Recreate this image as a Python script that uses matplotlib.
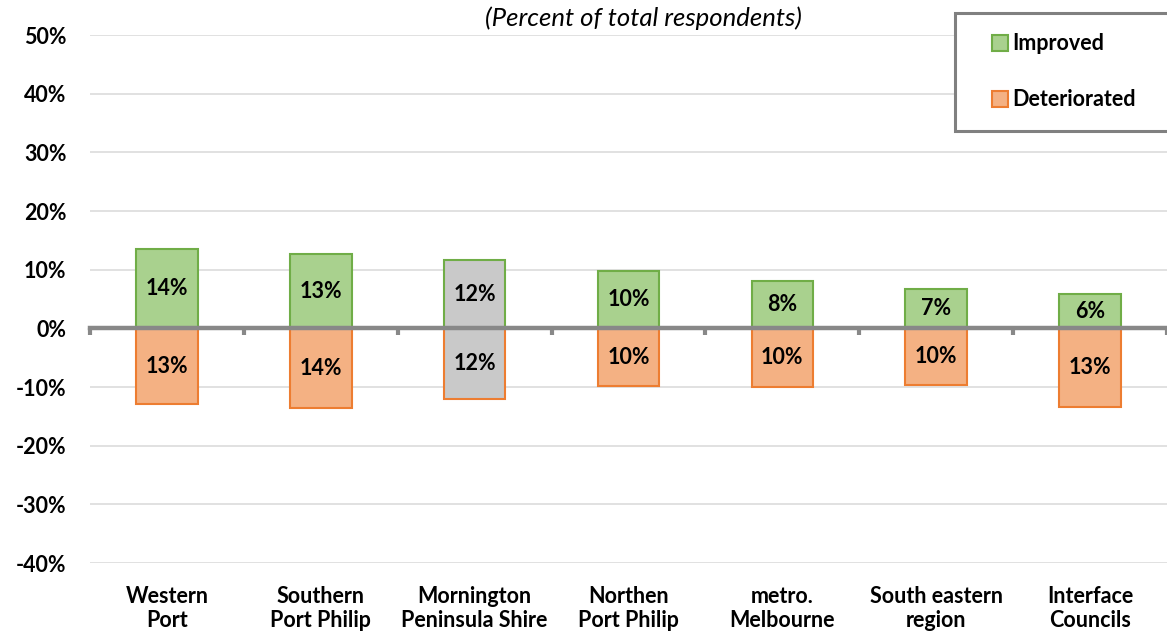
import matplotlib
matplotlib.use("Agg")
import matplotlib.pyplot as plt
from matplotlib.lines import Line2D
import numpy as np

plt.rcParams["font.family"] = ["Lato", "DejaVu Sans"]

categories = [
    "Western\nPort",
    "Southern\nPort Philip",
    "Mornington\nPeninsula Shire",
    "Northen\nPort Philip",
    "metro.\nMelbourne",
    "South eastern\nregion",
    "Interface\nCouncils",
]
improved = [13.6, 12.6, 11.7, 9.8, 8.1, 6.7, 5.9]
deteriorated = [-12.9, -13.6, -12.1, -9.9, -10.0, -9.6, -13.4]
highlight = "Mornington\nPeninsula Shire"
yticks = [-40, -30, -20, -10, 0, 10, 20, 30, 40, 50]

GREEN, GREEN_EDGE = "#A9D18E", "#70AD47"
ORANGE, ORANGE_EDGE = "#F4B183", "#ED7D31"
GREY = "#C9C9C9"
FS = 15.5

fig = plt.figure(figsize=(11.67, 6.33), dpi=100)
ax = fig.add_axes([90 / 1167, 1 - 563 / 633, 1 - 90 / 1167, (563 - 35) / 633])

x = np.arange(len(categories))
up_fill = [GREY if c == highlight else GREEN for c in categories]
dn_fill = [GREY if c == highlight else ORANGE for c in categories]
ax.bar(x, improved, width=0.4, color=up_fill, edgecolor=GREEN_EDGE,
       linewidth=1.5, zorder=3)
ax.bar(x, deteriorated, width=0.4, color=dn_fill, edgecolor=ORANGE_EDGE,
       linewidth=1.5, zorder=3)

for xi, v in zip(x, improved):
    ax.text(xi, v / 2, f"{abs(v):.0f}%", ha="center", va="center",
            fontsize=FS, fontweight="bold", zorder=5)
for xi, v in zip(x, deteriorated):
    ax.text(xi, v / 2, f"{abs(v):.0f}%", ha="center", va="center",
            fontsize=FS, fontweight="bold", zorder=5)

ax.set_ylim(-40, 50)
ax.set_xlim(-0.5, (1167 - 168) / 155.3)
ax.set_yticks(yticks)
ax.set_yticklabels([f"{t}%" for t in yticks], fontsize=FS, fontweight="bold")
ax.tick_params(axis="y", length=0, pad=17)
ax.yaxis.grid(True, color="#D9D9D9", linewidth=1.1, zorder=0)
ax.set_axisbelow(True)

# category axis runs along zero with boundary ticks
ax.set_xticks(np.arange(-0.5, len(categories) + 0.5, 1.0))
ax.set_xticklabels([])
ax.spines["bottom"].set_position(("data", 0))
ax.spines["bottom"].set_color("#888888")
ax.spines["bottom"].set_linewidth(3.2)
ax.spines["bottom"].set_zorder(4)
ax.tick_params(axis="x", length=5, width=3, color="#888888", direction="out")
for s in ["top", "left", "right"]:
    ax.spines[s].set_visible(False)

for xi, c in zip(x, categories):
    ax.text(xi, -0.043, c, transform=ax.get_xaxis_transform(), ha="center",
            va="top", fontsize=FS, fontweight="bold", linespacing=1.2)

fig.text(643 / 1167, 1 - 18 / 633, "(Percent of total respondents)",
         ha="center", va="center", fontsize=18.5, style="italic")

handles = [
    Line2D([], [], linestyle="none", marker="s", markersize=11.5,
           markerfacecolor=GREEN, markeredgecolor=GREEN_EDGE,
           markeredgewidth=1.5, label="Improved"),
    Line2D([], [], linestyle="none", marker="s", markersize=11.5,
           markerfacecolor=ORANGE, markeredgecolor=ORANGE_EDGE,
           markeredgewidth=1.5, label="Deteriorated"),
]
leg = fig.legend(handles=handles, loc="upper left",
                 bbox_to_anchor=(955 / 1167, 0, 0.3, 1 - 13 / 633),
                 mode="expand", prop={"weight": "bold", "size": FS},
                 handlelength=2.3, handletextpad=-0.6,
                 labelspacing=1.62, borderpad=0.95, borderaxespad=0,
                 fancybox=False, framealpha=1)
leg.get_frame().set_edgecolor("#808080")
leg.get_frame().set_linewidth(2.2)
leg.set_zorder(10)

fig.savefig("out.png", dpi=100)
